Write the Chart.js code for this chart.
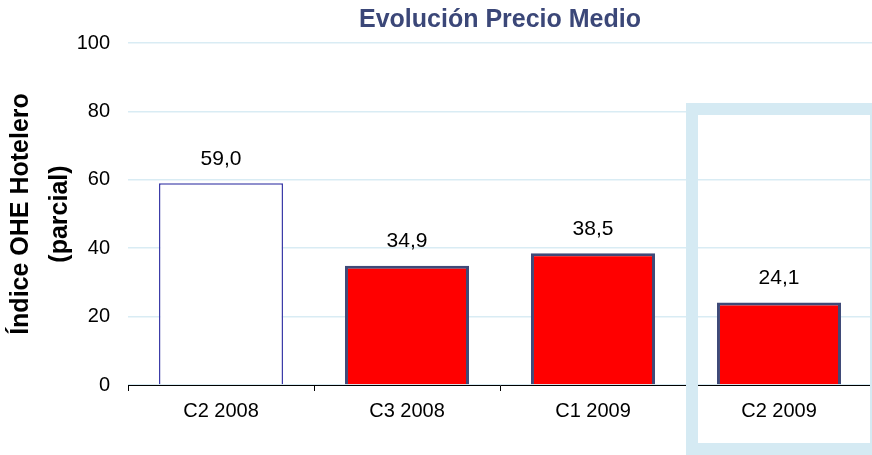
<!DOCTYPE html>
<html lang="es">
<head>
    <meta charset="UTF-8">
    <title>Evolución Precio Medio</title>
    <script src="https://cdn.jsdelivr.net/npm/chart.js@4"></script>
    <style>
        html, body { margin: 0; padding: 0; background: #ffffff; }
        .chart-container { width: 872px; height: 455px; }
    </style>
</head>
<body>
    <div class="chart-container">
        <canvas id="chart1"></canvas>
    </div>

    <script>
        // datos
        const categories = ['C2 2008', 'C3 2008', 'C1 2009', 'C2 2009'];
        const indexValues = [59.0, 34.9, 38.5, 24.1];
        const yTicks = [0, 20, 40, 60, 80, 100];

        const fontFamily = "'Liberation Sans', Arial, sans-serif";

        // etiquetas encima de cada barra
        const valueLabels = {
            id: 'valueLabels',
            afterDatasetsDraw(chart) {
                const ctx = chart.ctx;
                const meta = chart.getDatasetMeta(0);
                ctx.save();
                ctx.font = '21px ' + fontFamily;
                ctx.fillStyle = '#000000';
                ctx.textAlign = 'center';
                ctx.textBaseline = 'middle';
                meta.data.forEach((bar, i) => {
                    const txt = indexValues[i].toFixed(1).replace('.', ',');
                    ctx.fillText(txt, bar.x, bar.y - 24);
                });
                ctx.restore();
            }
        };

        // recuadro azul claro sobre el último periodo
        const highlightBox = {
            id: 'highlightBox',
            afterDraw(chart) {
                const x = chart.scales.x;
                const ctx = chart.ctx;
                const left = x.getPixelForValue(3) - (x.getPixelForValue(1) - x.getPixelForValue(0)) / 2;
                ctx.save();
                ctx.strokeStyle = '#d5eaf3';
                ctx.lineWidth = 12;
                ctx.strokeRect(left + 6, 109, 872 - left - 2, 340);
                ctx.restore();
            }
        };

        const ctx1 = document.getElementById('chart1').getContext('2d');
        const chart1 = new Chart(ctx1, {
            type: 'bar',
            data: {
                labels: categories,
                datasets: [{
                    data: indexValues,
                    backgroundColor: ['#ffffff', '#ff0000', '#ff0000', '#ff0000'],
                    borderColor: ['#3c3ca8', '#3f4a78', '#3f4a78', '#3f4a78'],
                    borderWidth: [1.5, 3, 3, 3],
                    borderSkipped: 'bottom',
                    categoryPercentage: 1.0,
                    barPercentage: 0.667
                }]
            },
            options: {
                responsive: true,
                maintainAspectRatio: false,
                animation: false,
                layout: { padding: 0 },
                plugins: {
                    legend: { display: false },
                    tooltip: { enabled: false },
                    title: {
                        display: true,
                        fullSize: false,
                        text: 'Evolución Precio Medio',
                        color: '#3b4778',
                        font: { family: fontFamily, size: 25, weight: 'bold' },
                        padding: { top: 5, bottom: 8 },
                        align: 'center'
                    }
                },
                scales: {
                    x: {
                        afterFit(scale) { scale.height = 70; },
                        grid: {
                            display: true,
                            drawOnChartArea: false,
                            drawTicks: true,
                            tickLength: 6,
                            color: '#000000',
                            offset: true
                        },
                        border: { display: true, color: '#000000', width: 1 },
                        ticks: {
                            color: '#000000',
                            font: { family: fontFamily, size: 20 },
                            padding: 8,
                            maxRotation: 0
                        }
                    },
                    y: {
                        min: 0,
                        max: 100,
                        afterBuildTicks(scale) {
                            scale.ticks = yTicks.map(v => ({ value: v }));
                        },
                        afterFit(scale) { scale.width = 128; },
                        grid: {
                            color: '#d9ecf4',
                            lineWidth: 1.5,
                            drawTicks: false
                        },
                        border: { display: false },
                        ticks: {
                            color: '#000000',
                            font: { family: fontFamily, size: 20 },
                            padding: 18
                        },
                        title: {
                            display: true,
                            text: ['Índice OHE Hotelero', '(parcial)'],
                            color: '#000000',
                            font: { family: fontFamily, size: 25, weight: 'bold', lineHeight: 1.56 },
                            padding: { top: 2, bottom: 0 }
                        }
                    }
                }
            },
            plugins: [valueLabels, highlightBox]
        });
    </script>
</body>
</html>
